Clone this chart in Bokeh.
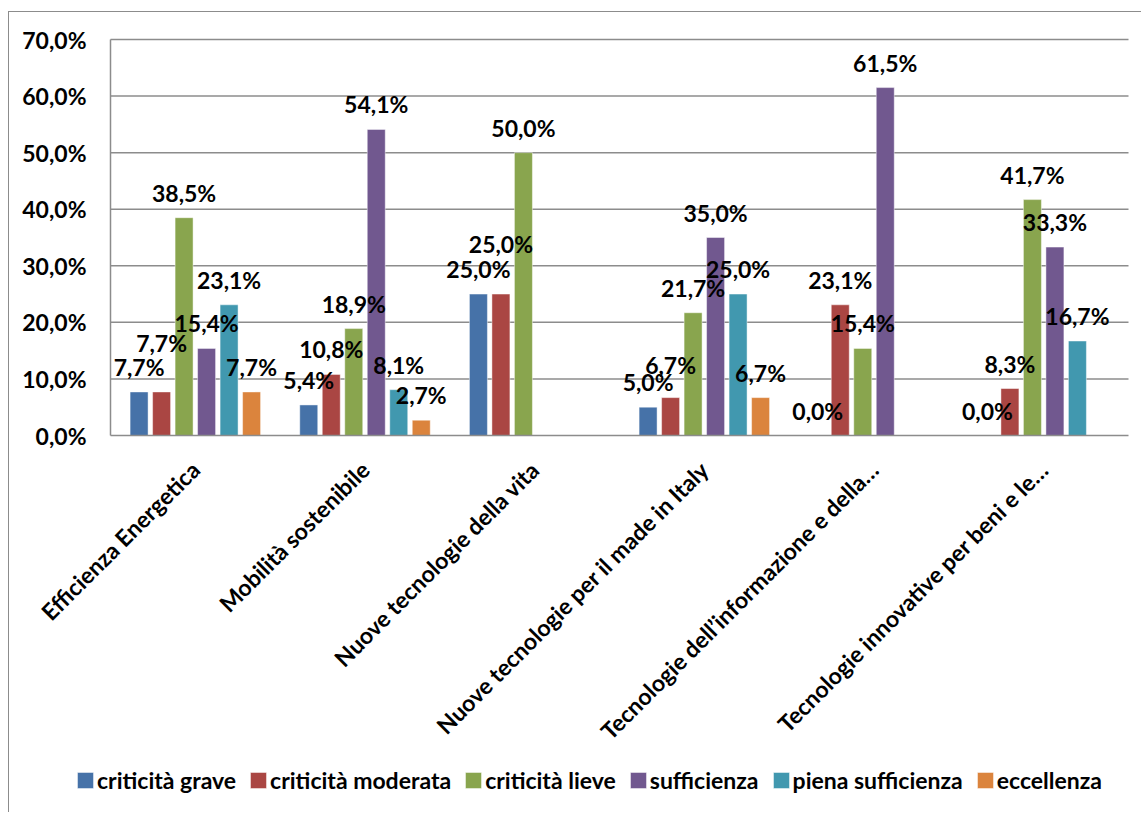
import math
from bokeh.plotting import figure
from bokeh.models import ColumnDataSource, Legend, Range1d
from bokeh.transform import dodge
from bokeh.core.properties import value
from bokeh.embed import file_html
from bokeh.resources import INLINE

categories = [
    "Efficienza Energetica",
    "Mobilità sostenibile",
    "Nuove tecnologie della vita",
    "Nuove tecnologie per il made in Italy",
    "Tecnologie dell\u2019informazione e della\u2026",
    "Tecnologie innovative per beni e le\u2026",
]
series_names = ["criticità grave", "criticità moderata", "criticità lieve",
                "sufficienza", "piena sufficienza", "eccellenza"]

criticita_grave = [7.7, 5.4, 25.0, 5.0, 0.0, 0.0]
criticita_moderata = [7.7, 10.8, 25.0, 6.7, 23.1, 8.3]
criticita_lieve = [38.5, 18.9, 50.0, 21.7, 15.4, 41.7]
sufficienza = [15.4, 54.1, None, 35.0, 61.5, 33.3]
piena_sufficienza = [23.1, 8.1, None, 25.0, None, 16.7]
eccellenza = [7.7, 2.7, None, 6.7, None, None]

y_ticks = [0, 10, 20, 30, 40, 50, 60, 70]
y_tick_labels = ["0,0%", "10,0%", "20,0%", "30,0%", "40,0%", "50,0%", "60,0%", "70,0%"]

# ---- styling / layout (not data) ----
colors = ["#4672A8", "#AA4643", "#89A54E", "#71588F", "#4198AF", "#DB843D"]
extra_lift = [
    [0, 0, 0, 0, 0, 0],
    [24, 0, 25, 8, 0, 0],
    [0, 0, 0, 0, 0, 0],
    [0, 0, 0, 0, 0, 0],
    [0, 0, 0, 0, 0, 0],
    [0, 0, 0, 0, 0, 0],
]
all_series = [criticita_grave, criticita_moderata, criticita_lieve,
              sufficienza, piena_sufficienza, eccellenza]

FONT = "Lato"
FS = "23px"
GRID = "#8c8c8c"
BORDER = "1px solid #8c8c8c"

W, H = 1133, 801              # canvas (inside the 1px chart-area border)
PLOT_LEFT, PLOT_TOP = 101, 27  # pixel position of the value area
PLOT_W, PLOT_H = 1018, 396
Y_MAX = 70
n = len(categories)
px_x = PLOT_W / n
px_y = PLOT_H / Y_MAX
x0 = -PLOT_LEFT / px_x
y1 = Y_MAX + PLOT_TOP / px_y
x_range = Range1d(x0, x0 + W / px_x)
y_range = Range1d(y1 - H / px_y, y1)

p = figure(x_range=x_range, y_range=y_range, width=W, height=H,
           output_backend="svg", toolbar_location=None, min_border=0,
           x_axis_location=None, y_axis_location=None)
p.margin = (11, 0, 0, 8)
p.styles = {"border-left": BORDER, "border-top": BORDER}
p.outline_line_color = None
p.xgrid.grid_line_color = None
p.ygrid.grid_line_color = None
p.background_fill_color = "white"
p.border_fill_color = "white"

cat_x = [i + 0.5 for i in range(n)]

# horizontal gridlines (above zero) + value axis line
grid_vals = [t for t in y_ticks if t > 0]
p.segment(x0=0, x1=n, y0=grid_vals, y1=grid_vals, line_color=GRID, line_width=1.5)
p.segment(x0=[0], x1=[0], y0=[0], y1=[Y_MAX], line_color=GRID, line_width=1.5)

# y tick labels
p.text(x=0, y=y_ticks, text=y_tick_labels, x_offset=-24,
       text_align="right", text_baseline="middle",
       text_font=value(FONT), text_font_style="bold", text_font_size=FS,
       text_color="black")

# category labels (rotated)
p.text(x=cat_x, y=0, text=categories, angle=math.pi / 4, y_offset=30,
       text_align="right", text_baseline="middle",
       text_font=value(FONT), text_font_style="bold", text_font_size=FS,
       text_color="black")

slot = 0.1326
bw = 0.106
sources = []
items = []
for i, (name, vals) in enumerate(zip(series_names, all_series)):
    xs, tops, labs, offs = [], [], [], []
    for j, v in enumerate(vals):
        if v is None:
            continue
        xs.append(cat_x[j])
        tops.append(v)
        labs.append(f"{v:.1f}".replace(".", ",") + "%")
        offs.append(-(25 + extra_lift[i][j]))
    src = ColumnDataSource(dict(x=xs, top=tops, lab=labs, off=offs))
    sources.append(src)
    off = (i - 2.5) * slot
    r = p.vbar(x=dodge("x", off), top="top", width=bw, source=src,
               fill_color=colors[i], line_color="white", line_alpha=0.45, line_width=1)
    items.append((name, [r]))

# category axis line drawn over the bar bases
p.segment(x0=[0], x1=[n], y0=[0], y1=[0], line_color=GRID, line_width=1.5)

for i, src in enumerate(sources):
    off = (i - 2.5) * slot
    p.text(x=dodge("x", off), y="top", text="lab", y_offset="off",
           source=src, text_align="center", text_baseline="middle",
           text_font=value(FONT), text_font_style="bold", text_font_size=FS,
           text_color="black")

legend = Legend(items=items, orientation="horizontal", location=(66, 19),
                glyph_width=20, glyph_height=20, label_standoff=2, spacing=12,
                padding=0, margin=0, border_line_color=None,
                background_fill_alpha=0,
                label_text_font=FONT, label_text_font_style="bold",
                label_text_font_size=FS, label_text_color="black")
p.add_layout(legend, "center")

open("out.html", "w").write(file_html(p, INLINE))
